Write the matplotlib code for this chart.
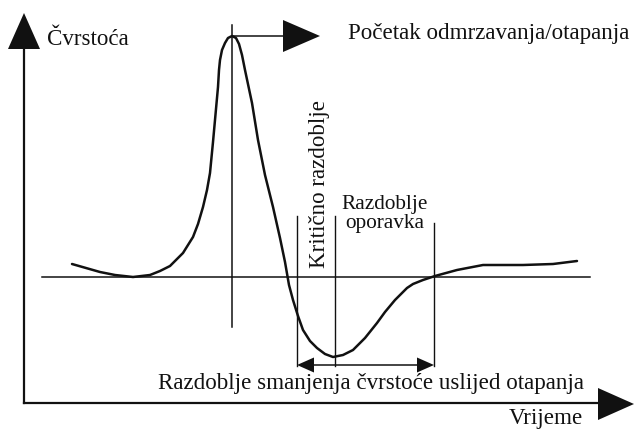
import matplotlib.pyplot as plt
from matplotlib.patches import Polygon

# strength curve (x = time, y = strength, pixel units, y grows downwards)
time = [72, 86, 100, 115, 133, 150, 160, 170, 183, 193, 198, 203, 207, 210, 213,
        215, 218, 219, 220, 222, 225, 228, 232, 236, 239, 242, 245, 252, 258,
        265, 273, 280, 285, 289, 293, 298, 303, 310, 317, 325, 333, 343, 353,
        365, 377, 385, 395, 400, 407, 413, 423, 435, 457, 483, 523, 553, 577]
strength = [264, 268, 272, 275, 277, 275, 271, 266, 253, 237, 224, 207, 190, 173, 142,
            120, 87, 70, 60, 50, 43, 38, 36, 38, 44, 55, 70, 103, 140,
            175, 207, 238, 262, 285, 300, 316, 330, 341, 348, 354, 357, 355, 350,
            338, 323, 312, 300, 295, 288, 284, 280, 276, 270, 265, 265, 264, 261]

baseline = 277          # reference strength level
peak_t = 232            # start of thaw
crit_start = 297        # start of critical period
min_t = 335             # lowest strength
recovery_end = 434      # end of recovery

labels = {
    'y': 'Čvrstoća',
    'x': 'Vrijeme',
    'thaw': 'Početak odmrzavanja/otapanja',
    'critical': 'Kritično razdoblje',
    'recovery': 'Razdoblje\noporavka',
    'reduction': 'Razdoblje smanjenja čvrstoće uslijed otapanja',
}

plt.rcParams['font.family'] = ['Liberation Serif', 'DejaVu Serif']
ink = '#111111'
fs = 16.6


def head(ax, tip, direction, length, width):
    # filled triangular arrow head, direction is one of 'up', 'right', 'left'
    x, y = tip
    if direction == 'up':
        pts = [(x, y), (x - width / 2, y + length), (x + width / 2, y + length)]
    elif direction == 'right':
        pts = [(x, y), (x - length, y - width / 2), (x - length, y + width / 2)]
    else:
        pts = [(x, y), (x + length, y - width / 2), (x + length, y + width / 2)]
    ax.add_patch(Polygon(pts, closed=True, color=ink, lw=0))


fig = plt.figure(figsize=(6.34, 4.30), dpi=100)
ax = fig.add_axes([0, 0, 1, 1])
ax.set_xlim(0, 634)
ax.set_ylim(430, 0)
ax.axis('off')

# axes with arrows
ax.plot([24, 24], [403, 45], color=ink, lw=1.6)
head(ax, (24, 13), 'up', 36, 32)
ax.plot([24, 600], [403, 403], color=ink, lw=1.6)
head(ax, (634, 404), 'right', 36, 32)

# reference level
ax.plot([42, 590], [baseline, baseline], color=ink, lw=1.1)

# thaw start marker
ax.plot([peak_t, peak_t], [25, 327], color=ink, lw=1.1)
ax.plot([peak_t, 290], [36, 36], color=ink, lw=1.1)
head(ax, (320, 36), 'right', 37, 32)

# period boundaries
ax.plot([crit_start, crit_start], [216, 366], color=ink, lw=1.0)
ax.plot([min_t, min_t], [216, 366], color=ink, lw=1.0)
ax.plot([recovery_end, recovery_end], [223, 366], color=ink, lw=1.0)

# double arrow for the reduction period
ax.plot([crit_start + 10, recovery_end - 10], [365, 365], color=ink, lw=1.1)
head(ax, (crit_start, 365), 'left', 17, 15)
head(ax, (recovery_end, 365), 'right', 17, 15)

# strength curve
ax.plot(time, strength, color=ink, lw=1.8, solid_capstyle='round',
        solid_joinstyle='round')

# texts
ax.text(47, 45, labels['y'], fontsize=fs, color=ink, va='baseline', ha='left')
ax.text(348, 39, labels['thaw'], fontsize=fs, color=ink, va='baseline', ha='left')
ax.text(583, 424, labels['x'], fontsize=fs, color=ink, va='baseline', ha='right')
ax.text(371, 389, labels['reduction'], fontsize=fs, color=ink, va='baseline', ha='center')
ax.text(325, 184, labels['critical'], fontsize=fs, color=ink, rotation=90,
        va='baseline', ha='center', rotation_mode='anchor')
ax.text(385, 214, labels['recovery'], fontsize=15.3, color=ink, va='center', ha='center',
        linespacing=1.0)

fig.savefig('out.png', dpi=100)
